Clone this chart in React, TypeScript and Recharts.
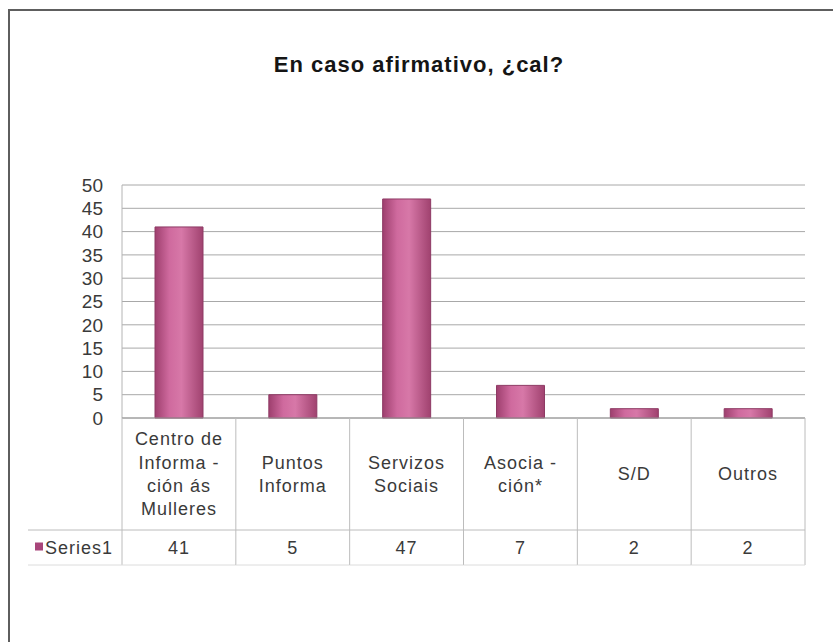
import React from 'react';
import { BarChart, Bar, XAxis, YAxis, CartesianGrid } from 'recharts';

const categoryLines: string[][] = [
  ['Centro de', 'Informa -', 'ción ás', 'Mulleres'],
  ['Puntos', 'Informa'],
  ['Servizos', 'Sociais'],
  ['Asocia -', 'ción*'],
  ['S/D'],
  ['Outros'],
];
const categories = [
  'Centro de Información ás Mulleres',
  'Puntos Informa',
  'Servizos Sociais',
  'Asociación*',
  'S/D',
  'Outros',
];
const series1 = [41, 5, 47, 7, 2, 2];
const seriesName = 'Series1';
const yTicks = [0, 5, 10, 15, 20, 25, 30, 35, 40, 45, 50];
const title = 'En caso afirmativo, ¿cal?';

const data = categories.map((name, i) => ({ name, value: series1[i] }));

const W = 833;
const H = 642;
const PLOT_LEFT = 122;
const PLOT_RIGHT = 805;
const PLOT_TOP = 185;
const AXIS_Y = 418;
const ROW_Y = 530;
const TABLE_BOTTOM = 565;
const LEGEND_LEFT = 28;
const COL_W = (PLOT_RIGHT - PLOT_LEFT) / categories.length;
const FONT = '"Liberation Sans", Arial, sans-serif';
const TEXT = '#3a3a3a';
const TABLE_LINE = '#bcbcbc';

const TableTick = (props: any) => {
  const { x, payload } = props;
  const i: number = payload.index ?? props.index;
  const half = COL_W / 2;
  const lines = categoryLines[i] || [];
  const lh = 23.3;
  const midY = (AXIS_Y + ROW_Y) / 2;
  const startY = midY - ((lines.length - 1) * lh) / 2;
  const textStyle = { fontFamily: FONT, fontSize: 18, letterSpacing: 1, fill: TEXT };
  return (
    <g>
      <line x1={x - half} x2={x - half} y1={AXIS_Y} y2={TABLE_BOTTOM} stroke={TABLE_LINE} />
      {i === categories.length - 1 && (
        <line x1={x + half} x2={x + half} y1={AXIS_Y} y2={TABLE_BOTTOM} stroke={TABLE_LINE} />
      )}
      <line x1={x - half} x2={x + half} y1={ROW_Y} y2={ROW_Y} stroke={TABLE_LINE} />
      <line x1={x - half} x2={x + half} y1={TABLE_BOTTOM} y2={TABLE_BOTTOM} stroke="#dcdcdc" />
      <text x={x} textAnchor="middle" style={textStyle}>
        {lines.map((l, k) => (
          <tspan key={k} x={x} y={startY + k * lh} dy="0.355em">
            {l}
          </tspan>
        ))}
      </text>
      <text x={x} y={(ROW_Y + TABLE_BOTTOM) / 2} dy="0.355em" textAnchor="middle" style={textStyle}>
        {series1[i]}
      </text>
      {i === 0 && (
        <g>
          <line x1={LEGEND_LEFT} x2={x - half} y1={ROW_Y} y2={ROW_Y} stroke={TABLE_LINE} />
          <line x1={LEGEND_LEFT} x2={x - half} y1={TABLE_BOTTOM} y2={TABLE_BOTTOM} stroke="#dcdcdc" />
          <rect x={35} y={(ROW_Y + TABLE_BOTTOM) / 2 - 5} width={8} height={8} fill="#a8457a" />
          <text x={45} y={(ROW_Y + TABLE_BOTTOM) / 2} dy="0.355em" textAnchor="start" style={textStyle}>
            {seriesName}
          </text>
        </g>
      )}
    </g>
  );
};

const App: React.FC = () => {
  return (
    <div
      style={{
        position: 'absolute',
        left: 0,
        top: 0,
        width: W,
        height: H,
        background: '#fff',
        overflow: 'hidden',
      }}
    >
      <div
        style={{
          position: 'absolute',
          left: 8,
          top: 9,
          width: W - 8,
          height: H - 9,
          borderLeft: '2px solid #5e5e5e',
          borderTop: '2px solid #5e5e5e',
          boxSizing: 'border-box',
        }}
      />
      <div
        style={{
          position: 'absolute',
          left: 0,
          top: 54,
          width: 838,
          textAlign: 'center',
          fontFamily: FONT,
          fontWeight: 'bold',
          fontSize: 22,
          letterSpacing: 1,
          lineHeight: '22px',
          color: '#151515',
        }}
      >
        {title}
      </div>
      <div style={{ position: 'absolute', left: 0, top: 0 }}>
        <BarChart
          width={W}
          height={H}
          data={data}
          margin={{ top: PLOT_TOP, right: W - PLOT_RIGHT, left: PLOT_LEFT - 60, bottom: H - AXIS_Y - 150 }}
          barSize={48}
        >
          <defs>
            <linearGradient id="barFill" x1="0" y1="0" x2="1" y2="0">
              <stop offset="0%" stopColor="#9e3f6e" />
              <stop offset="30%" stopColor="#cf6a9e" />
              <stop offset="55%" stopColor="#d778a8" />
              <stop offset="100%" stopColor="#a0426f" />
            </linearGradient>
          </defs>
          <CartesianGrid vertical={false} stroke="#a8a8a8" />
          <YAxis
            width={60}
            domain={[0, 50]}
            ticks={yTicks}
            interval={0}
            tickLine={false}
            tickMargin={13}
            axisLine={{ stroke: '#b4b4b4' }}
            tick={{ fontFamily: FONT, fontSize: 19, fill: TEXT }}
          />
          <XAxis
            dataKey="name"
            height={150}
            interval={0}
            tickLine={false}
            axisLine={{ stroke: '#9a9a9a' }}
            tick={(p: any) => <TableTick {...p} />}
          />
          <Bar dataKey="value" name={seriesName} fill="url(#barFill)" stroke="#8e3a64" strokeWidth={1} isAnimationActive={false} />
        </BarChart>
      </div>
    </div>
  );
};

export default App;
